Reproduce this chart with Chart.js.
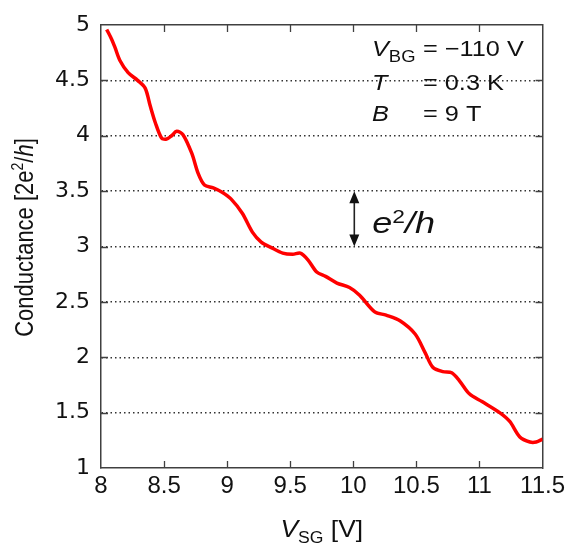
<!DOCTYPE html>
<html>
<head>
<meta charset="utf-8">
<script src="https://cdn.jsdelivr.net/npm/chart.js@4"></script>
<style>
  html, body { margin: 0; padding: 0; background: #fff; }
  #wrap { width: 569px; height: 546px; }
</style>
</head>
<body>
<div id="wrap"><canvas id="conductanceChart" width="569" height="546"></canvas></div>
<script>
// gate voltage V_SG [V] and conductance [2e^2/h]
const vsg = [8.045, 8.085, 8.11, 8.15, 8.215, 8.29, 8.35, 8.39, 8.43, 8.48, 8.52, 8.56, 8.60, 8.65, 8.72, 8.77, 8.82,
    8.89, 8.96, 9.03, 9.12, 9.20, 9.27, 9.35, 9.44, 9.52, 9.58, 9.64, 9.71, 9.78, 9.87, 9.97, 10.05, 10.17,
    10.26, 10.37, 10.49, 10.57, 10.63, 10.71, 10.78, 10.84, 10.92, 11.02, 11.16, 11.24, 11.32, 11.40, 11.45, 11.50];
const conductance = [4.96, 4.87, 4.80, 4.68, 4.57, 4.50, 4.43, 4.27, 4.12, 3.98, 3.97, 4.00, 4.04, 4.01, 3.84, 3.66, 3.555,
    3.53, 3.49, 3.43, 3.30, 3.13, 3.04, 2.99, 2.94, 2.93, 2.94, 2.88, 2.77, 2.73, 2.67, 2.63, 2.56, 2.41,
    2.38, 2.33, 2.21, 2.04, 1.91, 1.87, 1.86, 1.79, 1.67, 1.60, 1.50, 1.42, 1.28, 1.235, 1.235, 1.26];

const xTicks = [8, 8.5, 9, 9.5, 10, 10.5, 11, 11.5];
const yTicks = [1, 1.5, 2, 2.5, 3, 3.5, 4, 4.5, 5];

// the step marker drawn between these two levels
const stepFrom = 3.5;
const stepTo = 3.0;
const stepAt = 10.0;

const colors = {
    trace: '#ff0000',
    axis: '#404040',
    grid: '#333333',
    text: '#111111',
};

const sans = '"Liberation Sans", Arial, sans-serif';
Chart.defaults.font.family = sans;
Chart.defaults.color = colors.text;

function drawRuns(ctx, runs, x, y) {
    runs.forEach(r => {
        ctx.font = r.font;
        ctx.fillText(r.text, x, y + (r.dy || 0));
        x += ctx.measureText(r.text).width;
    });
    return x;
}

function runsWidth(ctx, runs) {
    let w = 0;
    runs.forEach(r => { ctx.font = r.font; w += ctx.measureText(r.text).width; });
    return w;
}

const decorations = {
    id: 'decorations',
    afterDraw(chart) {
        const { ctx, chartArea: a, scales: { x, y } } = chart;
        ctx.save();

        // inward tick marks on all four sides
        ctx.strokeStyle = colors.axis;
        ctx.lineWidth = 1.3;
        ctx.beginPath();
        xTicks.forEach(v => {
            if (v <= x.min || v >= x.max) return;
            const px = Math.round(x.getPixelForValue(v)) + 0.5;
            ctx.moveTo(px, a.bottom); ctx.lineTo(px, a.bottom - 7);
            ctx.moveTo(px, a.top); ctx.lineTo(px, a.top + 7);
        });
        yTicks.forEach(v => {
            if (v <= y.min || v >= y.max) return;
            const py = Math.round(y.getPixelForValue(v)) + 0.5;
            ctx.moveTo(a.left, py); ctx.lineTo(a.left + 7, py);
            ctx.moveTo(a.right, py); ctx.lineTo(a.right - 7, py);
        });
        ctx.stroke();

        ctx.fillStyle = colors.text;
        ctx.textAlign = 'left';
        ctx.textBaseline = 'alphabetic';

        // parameter block, top right
        const lx = a.left + 271;
        const ex = a.left + 322;
        const rows = [
            { lab: [{ text: 'V', font: 'italic 22px ' + sans }, { text: 'BG', font: '16px ' + sans, dy: 6 }], val: '= \u2212110 V', dy: 31 },
            { lab: [{ text: 'T', font: 'italic 22px ' + sans }], val: '= 0.3 K', dy: 65 },
            { lab: [{ text: 'B', font: 'italic 22px ' + sans }], val: '= 9 T', dy: 96 },
        ];
        rows.forEach(r => {
            ctx.save();
            ctx.translate(lx, a.top + r.dy);
            ctx.scale(1.15, 1);
            drawRuns(ctx, r.lab, 0, 0);
            ctx.restore();
            ctx.save();
            ctx.translate(ex, a.top + r.dy);
            ctx.scale(1.15, 1);
            drawRuns(ctx, [{ text: r.val, font: '22px ' + sans }], 0, 0);
            ctx.restore();
        });

        // double arrow marking one e^2/h step
        const ax = x.getPixelForValue(stepAt) + 1;
        const y1 = y.getPixelForValue(stepFrom);
        const y2 = y.getPixelForValue(stepTo);
        ctx.strokeStyle = '#222';
        ctx.fillStyle = '#111';
        ctx.lineWidth = 1.6;
        ctx.beginPath();
        ctx.moveTo(ax, y1 + 10); ctx.lineTo(ax, y2 - 10);
        ctx.stroke();
        ctx.beginPath();
        ctx.moveTo(ax, y1); ctx.lineTo(ax - 5, y1 + 12); ctx.lineTo(ax + 5, y1 + 12); ctx.closePath();
        ctx.moveTo(ax, y2); ctx.lineTo(ax - 5, y2 - 12); ctx.lineTo(ax + 5, y2 - 12); ctx.closePath();
        ctx.fill();

        ctx.save();
        ctx.translate(ax + 18, y2 - 14);
        ctx.scale(1.2, 1);
        drawRuns(ctx, [
            { text: 'e', font: 'italic 30px ' + sans },
            { text: '2', font: '19px ' + sans, dy: -10 },
            { text: '/h', font: 'italic 30px ' + sans },
        ], 0, 0);
        ctx.restore();

        // x axis title
        const xt = [
            { text: 'V', font: 'italic 24px ' + sans },
            { text: 'SG', font: '16px ' + sans, dy: 6 },
            { text: ' [V]', font: '24px ' + sans },
        ];
        ctx.save();
        ctx.translate((a.left + a.right) / 2, a.bottom + 69);
        ctx.scale(1.1, 1);
        drawRuns(ctx, xt, -runsWidth(ctx, xt) / 2, 0);
        ctx.restore();

        // y axis title, rotated
        const yt = [
            { text: 'Conductance [2e', font: '22px ' + sans },
            { text: '2', font: '14px ' + sans, dy: -9 },
            { text: '/', font: '22px ' + sans },
            { text: 'h', font: 'italic 22px ' + sans },
            { text: ']', font: '22px ' + sans },
        ];
        ctx.save();
        ctx.translate(33, (a.top + a.bottom) / 2 - 9);
        ctx.rotate(-Math.PI / 2);
        ctx.scale(1, 1.15);
        drawRuns(ctx, yt, -runsWidth(ctx, yt) / 2, 0);
        ctx.restore();

        ctx.restore();
    }
};

const frameBorder = { display: true, color: colors.axis, width: 1.5 };

new Chart(document.getElementById('conductanceChart'), {
    type: 'line',
    data: {
        datasets: [{
            label: 'Conductance',
            data: vsg.map((v, i) => ({ x: v, y: conductance[i] })),
            borderColor: colors.trace,
            borderWidth: 3.5,
            pointRadius: 0,
            tension: 0.3,
            fill: false,
        }]
    },
    options: {
        responsive: false,
        animation: false,
        layout: { padding: 0 },
        plugins: {
            legend: { display: false },
            tooltip: { enabled: false },
        },
        scales: {
            x: {
                type: 'linear',
                position: 'bottom',
                min: 8,
                max: 11.5,
                afterBuildTicks: s => { s.ticks = xTicks.map(v => ({ value: v })); },
                ticks: {
                    callback: v => String(v),
                    font: { size: 24 },
                    color: colors.text,
                    padding: 4,
                    maxRotation: 0,
                    autoSkip: false,
                },
                grid: { display: false, drawTicks: false },
                border: frameBorder,
                afterFit: s => { s.height = 78; },
            },
            xTop: {
                type: 'linear',
                position: 'top',
                min: 8,
                max: 11.5,
                ticks: { display: false },
                grid: { display: false, drawTicks: false },
                border: frameBorder,
                afterFit: s => { s.height = 25; },
            },
            y: {
                type: 'linear',
                position: 'left',
                min: 1,
                max: 5,
                afterBuildTicks: s => { s.ticks = yTicks.map(v => ({ value: v })); },
                ticks: {
                    callback: v => String(v),
                    font: { size: 22, family: '"DejaVu Sans", sans-serif' },
                    color: colors.text,
                    padding: 11,
                    autoSkip: false,
                },
                grid: {
                    drawTicks: false,
                    lineWidth: 1.5,
                    color: c => (c.tick && (c.tick.value === 1 || c.tick.value === 5)) ? 'rgba(0,0,0,0)' : colors.grid,
                },
                border: { display: true, color: colors.axis, width: 1.5, dash: [1.5, 3] },
                afterFit: s => { s.width = 101; },
            },
            yRight: {
                type: 'linear',
                position: 'right',
                min: 1,
                max: 5,
                ticks: { display: false },
                grid: { display: false, drawTicks: false },
                border: frameBorder,
                afterFit: s => { s.width = 26; },
            },
        },
    },
    plugins: [decorations],
});
</script>
</body>
</html>
